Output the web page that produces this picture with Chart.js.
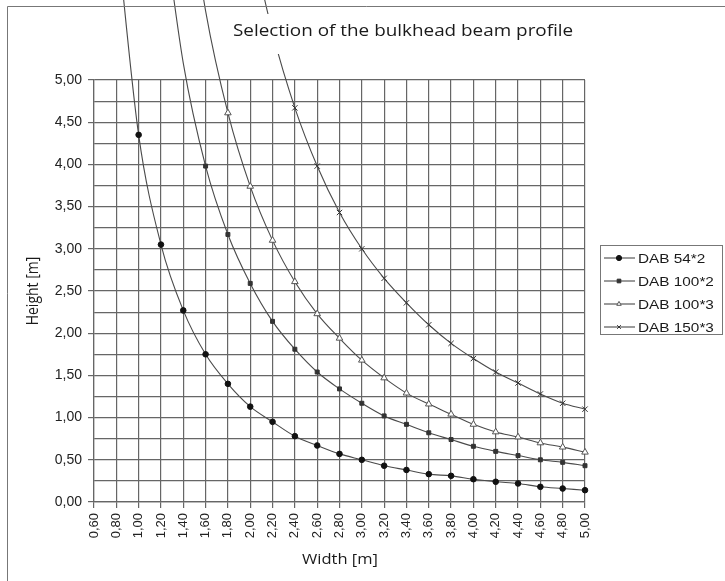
<!DOCTYPE html>
<html>
<head>
<meta charset="utf-8">
<script src="https://cdn.jsdelivr.net/npm/chart.js@4.4.1/dist/chart.umd.min.js"></script>
<style>
  html, body { margin: 0; padding: 0; background: #fff; }
  canvas { display: block; }
</style>
</head>
<body>
<canvas id="chart" width="725" height="581"></canvas>
<script>
// Datos del gráfico (ancho en m, altura en m)
const widths = [0.6, 0.8, 1.0, 1.2, 1.4, 1.6, 1.8, 2.0, 2.2, 2.4, 2.6, 2.8,
  3.0, 3.2, 3.4, 3.6, 3.8, 4.0, 4.2, 4.4, 4.6, 4.8, 5.0];

const dab54x2 = [null, 6.8, 4.35, 3.05, 2.27, 1.75, 1.40, 1.13, 0.95, 0.78, 0.67, 0.57,
  0.50, 0.43, 0.38, 0.33, 0.31, 0.27, 0.24, 0.22, 0.18, 0.16, 0.14];
const dab100x2 = [null, null, null, 7.1, 5.2, 3.98, 3.17, 2.59, 2.14, 1.81, 1.54, 1.34,
  1.17, 1.02, 0.92, 0.82, 0.74, 0.66, 0.60, 0.55, 0.50, 0.47, 0.43];
const dab100x3 = [null, null, null, null, 7.6, 5.82, 4.61, 3.74, 3.10, 2.61, 2.23, 1.94,
  1.68, 1.47, 1.29, 1.16, 1.04, 0.92, 0.83, 0.77, 0.70, 0.65, 0.59];
const dab150x3 = [null, null, null, null, null, null, null, 6.72, 5.56, 4.67, 3.98, 3.43,
  3.00, 2.65, 2.36, 2.10, 1.88, 1.70, 1.54, 1.41, 1.28, 1.17, 1.10];

const seriesNames = ["DAB 54*2", "DAB 100*2", "DAB 100*3", "DAB 150*3"];

const fmt = (n) => n.toFixed(2).replace(".", ",");
const GRID = "#666";
const LINE = "#4a4a4a";
const SX = 1.18; // el original está algo estirado en horizontal

// Radio del marcador: oculto por encima del eje
const radius = (r) => (ctx) => (ctx.raw > 5 ? 0 : r);

function makeSet(label, data, style, r, fill, border) {
  return {
    label: label,
    data: data,
    borderColor: LINE,
    borderWidth: 1.1,
    pointStyle: style,
    pointRadius: radius(r),
    pointHoverRadius: radius(r),
    pointBackgroundColor: fill,
    pointBorderColor: border,
    pointBorderWidth: 1,
    cubicInterpolationMode: "monotone",
    clip: false,
  };
}

// Texto estirado en x
function wideText(c, text, x, y, align) {
  c.save();
  c.translate(x, y);
  c.scale(SX, 1);
  c.textAlign = align;
  c.fillText(text, 0, 0);
  c.restore();
}

// Título con fondo blanco, tapa las curvas
const titlePlugin = {
  id: "titleBox",
  afterDatasetsDraw(chart) {
    const c = chart.ctx;
    c.save();
    c.fillStyle = "#fff";
    c.fillRect(228, 14, 354, 40);
    c.fillStyle = "#1a1a1a";
    c.font = '16px "Open Sans"';
    c.textBaseline = "middle";
    wideText(c, "Selection of the bulkhead beam profile", 233, 31, "left");
    c.restore();
  },
};

// Marco exterior, títulos de ejes y leyenda
const framePlugin = {
  id: "frame",
  afterDraw(chart) {
    const c = chart.ctx;
    c.save();
    c.strokeStyle = "#777";
    c.lineWidth = 1;
    c.beginPath();
    c.moveTo(7.5, 581);
    c.lineTo(7.5, 6.5);
    c.lineTo(725, 6.5);
    c.stroke();

    c.fillStyle = "#1a1a1a";
    c.font = '14px "Open Sans"';
    c.textBaseline = "middle";
    wideText(c, "Width [m]", 340, 560, "center");
    c.save();
    c.translate(33, 291);
    c.rotate(-Math.PI / 2);
    c.scale(1, SX);
    c.textAlign = "center";
    c.fillText("Height [m]", 0, 0);
    c.restore();

    // Leyenda
    c.strokeStyle = "#777";
    c.strokeRect(600.5, 245.5, 122, 89);
    const rows = [258, 281, 304, 327];
    chart.data.datasets.forEach((ds, i) => {
      const y = rows[i];
      c.strokeStyle = LINE;
      c.lineWidth = 1.1;
      c.beginPath();
      c.moveTo(604, y);
      c.lineTo(635, y);
      c.stroke();
      c.fillStyle = ds.pointBackgroundColor;
      c.strokeStyle = ds.pointBorderColor;
      c.lineWidth = 1;
      Chart.helpers.drawPoint(c, { pointStyle: ds.pointStyle, radius: 2.6, borderWidth: 1, rotation: 0 }, 619, y);
      c.fillStyle = "#1a1a1a";
      c.font = '13px "Liberation Sans"';
      wideText(c, ds.label, 638, y + 1, "left");
    });
    c.restore();
  },
};

new Chart(document.getElementById("chart"), {
  type: "line",
  data: {
    labels: widths.map(fmt),
    datasets: [
      makeSet(seriesNames[0], dab54x2, "circle", 2.8, "#111", "#111"),
      makeSet(seriesNames[1], dab100x2, "rect", 2.8, "#333", "#333"),
      makeSet(seriesNames[2], dab100x3, "triangle", 3.8, "#fff", "#555"),
      makeSet(seriesNames[3], dab150x3, "crossRot", 3.8, "#333", "#333"),
    ],
  },
  options: {
    responsive: false,
    animation: false,
    events: [],
    layout: { padding: { left: 0, right: 140, top: 80, bottom: 0 } },
    plugins: { legend: { display: false }, tooltip: { enabled: false } },
    scales: {
      x: {
        offset: false,
        border: { color: GRID, width: 1.2 },
        grid: { color: GRID, lineWidth: 1.2, tickLength: 6, tickColor: GRID },
        ticks: {
          autoSkip: false,
          minRotation: 90,
          maxRotation: 90,
          padding: 5,
          color: "#222",
          font: { family: "Liberation Sans", size: 13 },
        },
        afterFit: (s) => { s.height = 79; },
      },
      y: {
        min: 0,
        max: 5,
        border: { color: GRID, width: 1.2 },
        grid: {
          color: GRID,
          lineWidth: 1.2,
          tickLength: 6,
          tickColor: (ctx) => (Math.round(ctx.tick.value * 100) % 50 === 0 ? GRID : "rgba(0,0,0,0)"),
        },
        ticks: {
          stepSize: 0.25,
          padding: 6,
          color: "#222",
          font: { family: "Liberation Sans", size: 14 },
          callback: (v) => (Math.round(v * 100) % 50 === 0 ? fmt(v) : ""),
        },
        afterFit: (s) => { s.width = 94; },
      },
    },
  },
  plugins: [titlePlugin, framePlugin],
});
</script>
</body>
</html>
